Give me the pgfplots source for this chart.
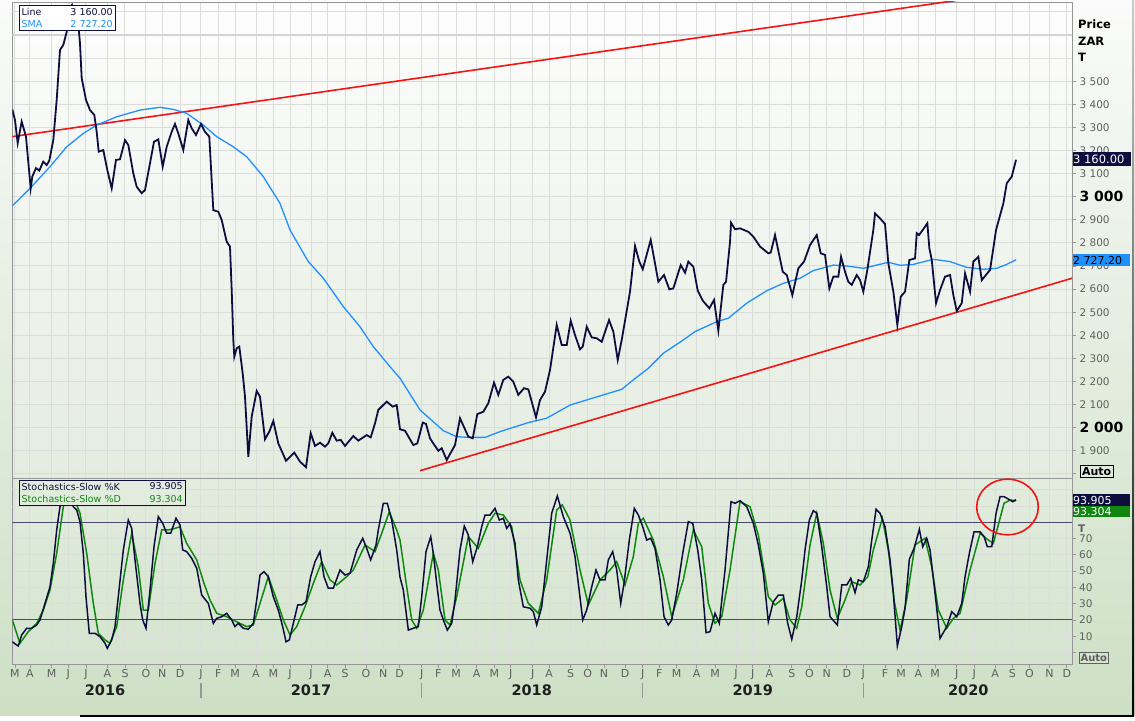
\documentclass[border=0pt]{standalone}
\usepackage{pgfplots}
\pgfplotsset{compat=1.18}
\usepackage{fontspec}
\setmainfont{DejaVu Sans}
\definecolor{navyline}{RGB}{14,14,62}
\definecolor{smablue}{RGB}{30,144,255}
\definecolor{trendred}{RGB}{245,20,20}
\definecolor{dgreen}{RGB}{16,136,16}
\definecolor{gridc}{RGB}{218,221,218}
\definecolor{bandc}{RGB}{72,72,112}
\definecolor{ticklab}{RGB}{95,95,95}
\definecolor{bgtop}{RGB}{250,251,250}
\definecolor{bgbot}{RGB}{204,223,196}
\definecolor{uptop}{RGB}{253,253,253}
\definecolor{upbot}{RGB}{228,236,224}
\definecolor{lotop}{RGB}{226,236,222}
\definecolor{lobot}{RGB}{212,228,206}
\definecolor{axgray}{RGB}{150,150,150}
\begin{document}
\begin{tikzpicture}[x=1pt,y=1pt]
\useasboundingbox (0,0) rectangle (1135,721);
\shade[top color=bgtop, bottom color=bgbot] (0,0) rectangle (1135,721);
% ---------------- upper panel ----------------
\begin{axis}[
  at={(12.3pt,243pt)}, anchor=south west, scale only axis,
  width=1059.7pt, height=476pt,
  xmin=1.854, xmax=59.29, ymin=1782.2, ymax=3842.9,
  axis background/.style={top color=uptop, bottom color=upbot},
  axis line style={axgray, line width=0.9pt},
  xtick={2.000,2.813,3.989,4.889,5.848,7.003,7.962,9.100,9.984,10.943,12.081,13.019,13.924,15.062,16.000,16.905,18.043,18.949,19.886,21.024,21.962,22.840,24.043,24.943,25.902,27.024,27.978,28.867,30.060,30.943,32.119,33.041,33.924,35.062,36.022,36.921,37.864,38.949,39.940,41.079,41.984,42.884,44.098,45.051,45.995,47.079,47.978,49.154,50.022,50.959,51.864,53.041,53.995,55.117,56.054,56.976,58.060,59.003},
  xticklabels={}, xtick style={draw=none},
  ytick={1800,1900,...,3500},
  yticklabels={{},1 900,{\fontsize{14}{16}\selectfont\bfseries\color{black}2 000},2 100,2 200,2 300,2 400,2 500,2 600,2 700,2 800,2 900,{\fontsize{14}{16}\selectfont\bfseries\color{black}3 000},3 100,3 200,3 300,3 400,3 500},
  ytick pos=right, yticklabel pos=right, tick align=outside, major tick length=4pt,
  ytick style={draw=axgray, line width=0.8pt},
  yticklabel style={font=\fontsize{10.5}{12}\selectfont, color=ticklab},
  xmajorgrids, ymajorgrids, major grid style={gridc, line width=1pt},
]
\addplot[gridc, line width=1pt] coordinates {(1.854,3600) (59.29,3600)};
\addplot[black!17, line width=1.5pt] coordinates {(1.854,3700) (59.29,3700)};
\addplot[gridc, line width=1pt] coordinates {(1.854,3800) (59.29,3800)};
\addplot[trendred, line width=1.6pt] coordinates {(1.854,3260) (59.29,3922)};
\addplot[trendred, line width=1.6pt] coordinates {(23.951,1814) (59.29,2647)};
\addplot[smablue, line width=1.3pt] coordinates {
(1.854,2960)(2.813,3036)(3.897,3130)(4.802,3216)(5.702,3274)(6.428,3310)(7.512,3346)(8.775,3375)(9.859,3387)(10.580,3378)(11.306,3361)(12.206,3310)(12.932,3260)(13.832,3216)(14.558,3173)(15.458,3087)(16.363,2971)(16.905,2856)(17.897,2719)(18.710,2647)(19.794,2524)(20.699,2437)(21.420,2351)(22.325,2264)(22.867,2214)(23.951,2077)(25.214,1987)(25.940,1961)(26.661,1958)(27.474,1958)(28.287,1983)(29.821,2022)(30.818,2041)(32.081,2098)(33.886,2142)(34.883,2166)(35.512,2207)(36.325,2257)(37.138,2322)(38.222,2380)(38.856,2416)(40.033,2459)(40.661,2474)(41.659,2539)(42.743,2593)(43.642,2625)(44.547,2647)(45.268,2680)(46.352,2704)(47.078,2700)(47.978,2690)(48.705,2704)(49.333,2716)(49.968,2703)(50.688,2707)(51.772,2729)(52.678,2719)(53.583,2694)(54.482,2686)(55.209,2690)(55.751,2707)(56.255,2727)};
\addplot[navyline, line width=1.8pt] coordinates {
(1.854,3378)(2.000,3332)(2.146,3232)(2.363,3325)(2.596,3260)(2.851,3036)(2.938,3087)(3.138,3124)(3.317,3113)(3.534,3152)(3.718,3137)(3.859,3156)(4.076,3245)(4.260,3419)(4.439,3635)(4.618,3657)(4.802,3714)(4.927,3808)(5.089,3830)(5.306,3765)(5.469,3714)(5.523,3664)(5.615,3513)(5.848,3419)(6.065,3375)(6.298,3354)(6.428,3281)(6.537,3195)(6.786,3202)(7.003,3116)(7.241,3036)(7.474,3159)(7.691,3162)(7.962,3245)(8.141,3224)(8.412,3101)(8.596,3043)(8.867,3015)(9.046,3029)(9.317,3145)(9.534,3238)(9.767,3248)(10.005,3130)(10.222,3216)(10.493,3281)(10.672,3315)(10.851,3274)(11.122,3202)(11.393,3332)(11.577,3296)(11.810,3267)(12.081,3315)(12.298,3281)(12.531,3260)(12.748,2942)(13.019,2935)(13.203,2899)(13.474,2805)(13.653,2784)(13.745,2596)(13.832,2380)(13.886,2307)(14.016,2344)(14.157,2351)(14.341,2235)(14.466,2134)(14.645,1874)(14.829,2048)(15.100,2159)(15.279,2134)(15.550,1950)(15.783,1983)(16.000,2029)(16.271,1932)(16.688,1857)(17.138,1892)(17.447,1853)(17.772,1829)(18.027,1976)(18.260,1921)(18.531,1935)(18.802,1918)(18.981,1932)(19.198,1978)(19.436,1944)(19.653,1947)(19.886,1921)(20.336,1964)(20.607,1944)(21.062,1968)(21.279,1958)(21.512,2019)(21.691,2077)(22.146,2113)(22.472,2091)(22.688,2098)(22.867,1993)(23.138,1987)(23.588,1925)(23.805,1932)(24.098,2022)(24.276,2016)(24.493,1954)(24.672,1932)(24.943,1900)(25.127,1911)(25.398,1860)(25.848,1925)(26.119,2041)(26.569,1961)(26.808,1954)(27.057,2059)(27.382,2069)(27.653,2106)(27.962,2195)(28.195,2142)(28.466,2207)(28.737,2221)(29.008,2199)(29.279,2142)(29.588,2171)(29.821,2166)(30.238,2045)(30.455,2120)(30.726,2156)(30.997,2250)(31.360,2445)(31.631,2358)(31.902,2358)(32.119,2463)(32.352,2401)(32.623,2339)(32.770,2351)(32.986,2437)(33.257,2391)(33.528,2387)(33.799,2372)(34.195,2466)(34.428,2416)(34.667,2293)(34.883,2380)(35.333,2589)(35.604,2787)(35.837,2719)(36.022,2686)(36.455,2813)(36.867,2632)(37.176,2661)(37.463,2599)(37.680,2603)(38.081,2704)(38.314,2671)(38.493,2719)(38.764,2697)(39.003,2593)(39.274,2550)(39.631,2517)(39.886,2553)(40.119,2420)(40.390,2618)(40.537,2632)(40.753,2805)(40.808,2887)(41.024,2859)(41.295,2863)(41.745,2848)(42.016,2827)(42.379,2784)(42.829,2755)(42.959,2758)(43.192,2834)(43.610,2675)(43.827,2661)(44.130,2574)(44.455,2690)(44.764,2719)(45.089,2791)(45.453,2834)(45.669,2755)(45.902,2748)(46.136,2603)(46.352,2654)(46.623,2654)(46.770,2740)(46.986,2675)(47.165,2632)(47.350,2618)(47.621,2661)(47.799,2639)(47.978,2589)(48.195,2683)(48.520,2856)(48.612,2928)(48.883,2906)(49.154,2882)(49.333,2712)(49.604,2589)(49.821,2445)(50.005,2567)(50.238,2589)(50.472,2726)(50.780,2733)(50.873,2842)(50.997,2834)(51.198,2856)(51.447,2885)(51.556,2777)(51.686,2726)(51.919,2539)(52.136,2596)(52.407,2654)(52.678,2661)(52.857,2574)(53.041,2505)(53.312,2539)(53.491,2668)(53.762,2589)(53.940,2719)(54.211,2740)(54.396,2639)(54.846,2683)(55.171,2856)(55.566,2971)(55.751,3058)(56.022,3087)(56.255,3160)};
\end{axis}
% ---------------- lower panel ----------------
\begin{axis}[
  at={(12.3pt,57pt)}, anchor=south west, scale only axis,
  width=1059.7pt, height=186pt,
  xmin=1.854, xmax=59.29, ymin=-7.07, ymax=107.25,
  axis background/.style={top color=lotop, bottom color=lobot},
  axis line style={axgray, line width=0.9pt},
  xtick={2.000,2.813,3.989,4.889,5.848,7.003,7.962,9.100,9.984,10.943,12.081,13.019,13.924,15.062,16.000,16.905,18.043,18.949,19.886,21.024,21.962,22.840,24.043,24.943,25.902,27.024,27.978,28.867,30.060,30.943,32.119,33.041,33.924,35.062,36.022,36.921,37.864,38.949,39.940,41.079,41.984,42.884,44.098,45.051,45.995,47.079,47.978,49.154,50.022,50.959,51.864,53.041,53.995,55.117,56.054,56.976,58.060,59.003},
  xticklabels={M,A,M,J,J,A,S,O,N,D,J,F,M,A,M,J,J,A,S,O,N,D,J,F,M,A,M,J,J,A,S,O,N,D,J,F,M,A,M,J,J,A,S,O,N,D,J,F,M,A,M,J,J,A,S,O,N,D},
  xtick pos=left,
  xtick style={draw=axgray, line width=0.8pt},
  xticklabel style={font=\fontsize{11}{13}\selectfont, color=ticklab, yshift=1.5pt},
  ytick={0,10,...,70},
  yticklabels={{},10,20,30,40,50,60,70},
  ytick pos=right, yticklabel pos=right, tick align=outside, major tick length=3.5pt,
  ytick style={draw=axgray, line width=0.8pt},
  yticklabel style={font=\fontsize{10.5}{12}\selectfont, color=ticklab},
  xmajorgrids, ymajorgrids, major grid style={gridc, line width=1pt},
]
\addplot[gridc, line width=1pt] coordinates {(1.854,90) (59.29,90)};
\addplot[gridc, line width=1pt] coordinates {(1.854,100) (59.29,100)};
\addplot[bandc, line width=1pt] coordinates {(1.854,20) (59.29,20)};
\addplot[bandc, line width=1pt] coordinates {(1.854,80) (59.29,80)};
\addplot[dgreen, line width=1.5pt] coordinates {
(1.854,20.0)(2.271,5.7)(2.721,12.8)(3.176,17.9)(3.534,26.1)(3.897,38.4)(4.260,61.0)(4.618,89.6)(4.802,95.8)(5.160,95.8)(5.523,85.6)(5.886,61.0)(6.244,30.2)(6.515,11.8)(6.878,7.7)(7.149,5.7)(7.512,15.9)(7.870,44.6)(8.325,73.3)(8.683,52.7)(8.954,26.1)(9.225,26.1)(9.588,54.8)(9.951,75.3)(10.309,75.3)(10.672,76.3)(10.943,77.3)(11.306,67.1)(11.848,56.9)(12.244,42.5)(12.569,32.3)(12.932,24.1)(13.474,22.0)(14.016,18.9)(14.558,15.9)(14.916,16.9)(15.279,30.2)(15.729,46.6)(16.184,32.3)(16.542,20.0)(16.905,10.8)(17.268,15.9)(17.718,28.1)(18.168,42.5)(18.623,55.8)(19.073,44.6)(19.436,41.5)(19.978,46.6)(20.336,50.7)(20.970,66.1)(21.512,62.0)(21.875,73.3)(22.287,86.5)(22.688,75.3)(22.867,69.1)(23.230,40.4)(23.501,20.0)(23.772,14.9)(24.130,26.1)(24.672,61.0)(24.943,50.7)(25.306,20.0)(25.577,16.9)(25.940,34.3)(26.569,71.2)(27.111,64.0)(27.653,79.4)(28.016,85.6)(28.466,84.5)(28.921,77.3)(29.371,44.6)(29.821,30.2)(30.363,24.1)(30.818,44.6)(31.360,87.6)(31.664,90.7)(32.081,81.4)(32.623,50.7)(33.073,29.2)(33.707,44.6)(34.249,50.7)(34.612,55.8)(35.062,41.5)(35.512,58.9)(35.783,79.4)(36.054,82.5)(36.596,69.1)(37.138,46.6)(37.593,22.0)(38.222,44.6)(38.764,75.3)(39.220,65.0)(39.577,30.2)(39.940,17.9)(40.304,22.0)(40.753,50.7)(41.295,92.7)(41.837,89.6)(42.287,72.2)(42.829,34.3)(43.192,29.2)(43.642,33.3)(44.005,20.0)(44.369,14.9)(44.640,28.1)(45.089,66.1)(45.453,85.6)(45.810,67.1)(46.173,38.4)(46.569,21.0)(46.986,32.3)(47.350,43.5)(47.799,41.5)(48.222,46.6)(48.520,63.0)(49.008,82.5)(49.333,63.0)(49.659,31.2)(49.968,13.8)(50.325,32.3)(50.780,66.1)(51.322,70.2)(51.684,52.7)(52.046,26.1)(52.496,14.9)(52.859,21.0)(53.222,24.1)(53.762,50.7)(54.304,73.3)(54.753,69.1)(55.024,67.1)(55.388,82.5)(55.604,91.7)(55.930,93.7)(56.255,93.304)};
\addplot[navyline, line width=1.5pt] coordinates {
(1.854,6.6)(2.092,4.6)(2.179,4.0)(2.363,10.8)(2.634,14.9)(2.905,14.9)(3.176,16.9)(3.355,20.0)(3.626,30.2)(3.897,40.4)(4.076,54.8)(4.260,75.3)(4.439,89.6)(4.602,98.0)(4.873,98.0)(5.160,89.6)(5.344,87.6)(5.523,80.4)(5.702,61.0)(5.848,34.3)(6.027,11.8)(6.336,11.8)(6.607,9.7)(6.878,5.7)(7.003,2.6)(7.241,7.7)(7.420,15.9)(7.599,34.3)(7.870,63.0)(8.141,81.4)(8.325,76.3)(8.504,56.9)(8.775,30.2)(8.921,20.0)(9.100,14.9)(9.317,38.4)(9.534,65.0)(9.767,83.5)(10.005,79.4)(10.222,73.3)(10.439,73.3)(10.726,82.5)(10.943,78.4)(11.089,63.0)(11.306,62.0)(11.577,57.9)(11.848,51.8)(12.119,35.3)(12.477,30.2)(12.748,17.9)(12.932,21.0)(13.203,22.0)(13.474,24.1)(13.745,20.0)(13.924,15.9)(14.103,17.9)(14.374,14.9)(14.645,14.3)(14.916,17.9)(15.100,32.3)(15.279,47.6)(15.496,49.7)(15.729,46.6)(16.000,34.3)(16.271,26.1)(16.509,15.9)(16.688,6.6)(16.867,7.7)(17.084,17.9)(17.322,29.2)(17.539,29.2)(17.772,31.2)(18.027,46.6)(18.260,55.8)(18.531,62.0)(18.748,46.6)(18.981,39.5)(19.252,39.5)(19.615,50.7)(19.886,47.6)(20.157,48.7)(20.520,63.0)(20.846,70.2)(21.062,64.0)(21.279,56.9)(21.566,66.1)(21.691,75.3)(21.962,91.7)(22.179,91.7)(22.417,81.4)(22.688,63.0)(22.867,46.3)(23.046,38.4)(23.317,13.8)(23.588,14.9)(23.859,15.9)(24.043,34.3)(24.276,62.0)(24.531,71.2)(24.672,61.0)(24.856,42.5)(25.035,26.1)(25.214,20.0)(25.431,13.8)(25.669,17.9)(25.848,32.3)(26.119,63.0)(26.352,77.7)(26.569,72.2)(26.808,55.8)(27.057,65.0)(27.295,77.3)(27.474,84.5)(27.745,84.5)(28.016,88.6)(28.249,81.4)(28.466,82.5)(28.650,76.3)(28.829,79.0)(29.100,67.1)(29.279,44.6)(29.550,28.1)(29.913,27.2)(30.092,25.1)(30.276,16.9)(30.547,28.1)(30.818,56.9)(31.089,85.6)(31.393,96.2)(31.718,83.5)(32.081,73.3)(32.352,58.9)(32.531,42.5)(32.770,20.0)(32.986,26.1)(33.257,40.4)(33.490,50.7)(33.707,44.6)(33.978,44.6)(34.157,56.9)(34.396,62.0)(34.612,50.7)(34.829,30.2)(35.008,42.5)(35.295,69.1)(35.566,88.6)(35.783,84.5)(36.022,77.3)(36.238,69.1)(36.455,70.2)(36.688,64.0)(36.959,44.6)(37.176,22.0)(37.409,16.9)(37.593,20.0)(37.864,36.4)(38.190,61.0)(38.493,80.4)(38.732,79.4)(39.003,63.0)(39.220,44.6)(39.453,12.2)(39.669,12.8)(39.940,24.1)(40.173,17.9)(40.482,50.7)(40.808,92.7)(41.024,91.7)(41.295,93.3)(41.659,89.6)(42.016,79.4)(42.287,66.1)(42.558,48.7)(42.829,18.9)(43.100,31.2)(43.371,35.3)(43.642,35.3)(43.870,18.4)(44.098,8.1)(44.369,22.0)(44.640,44.6)(44.818,63.0)(45.051,81.4)(45.268,87.2)(45.453,85.6)(45.724,65.0)(45.995,40.4)(46.173,22.0)(46.569,16.9)(46.808,41.5)(47.079,41.5)(47.295,45.6)(47.528,36.8)(47.707,44.6)(47.978,43.5)(48.249,52.7)(48.434,69.1)(48.667,88.0)(48.883,85.6)(49.154,77.3)(49.425,56.9)(49.604,36.4)(49.821,4.0)(50.060,15.9)(50.238,27.2)(50.472,57.3)(50.726,64.0)(51.014,75.7)(51.198,65.0)(51.415,70.2)(51.593,63.0)(51.864,36.4)(52.136,8.7)(52.499,15.9)(52.770,25.1)(53.041,22.0)(53.312,30.2)(53.491,46.6)(53.724,61.0)(53.978,74.2)(54.304,74.2)(54.520,71.2)(54.699,65.0)(54.938,65.0)(55.171,85.6)(55.388,95.8)(55.604,95.8)(55.930,93.7)(56.076,92.7)(56.255,93.905)};
\end{axis}
% panel separator
\draw[black!42, line width=1.4pt] (12.3,242.7) -- (1072,242.7);
% legends
\draw[navyline, fill=white, line width=0.8pt] (19,715.3) rectangle (115.7,690.3);
\node[anchor=west, text=navyline, inner sep=0pt, font=\fontsize{9.5}{11}\selectfont] at (21.5,708.7) {Line};
\node[anchor=east, text=navyline, inner sep=0pt, font=\fontsize{9.5}{11}\selectfont] at (113,708.7) {3 160.00};
\node[anchor=west, text=smablue, inner sep=0pt, font=\fontsize{9.5}{11}\selectfont] at (21.5,697) {SMA};
\node[anchor=east, text=smablue, inner sep=0pt, font=\fontsize{9.5}{11}\selectfont] at (113,697) {2 727.20};
\draw[navyline, fill=lotop, line width=0.8pt] (19,240.5) rectangle (185.7,215.5);
\node[anchor=west, text=navyline, inner sep=0pt, font=\fontsize{9.5}{11}\selectfont] at (21.5,234.5) {Stochastics-Slow \%K};
\node[anchor=east, text=navyline, inner sep=0pt, font=\fontsize{9.5}{11}\selectfont] at (183,234.5) {93.905};
\node[anchor=west, text=dgreen, inner sep=0pt, font=\fontsize{9.5}{11}\selectfont] at (21.5,222) {Stochastics-Slow \%D};
\node[anchor=east, text=dgreen, inner sep=0pt, font=\fontsize{9.5}{11}\selectfont] at (183,222) {93.304};
% right-side labels
\node[anchor=west, inner sep=0pt, font=\fontsize{11.5}{13}\selectfont\bfseries] at (1078,696.7) {Price};
\node[anchor=west, inner sep=0pt, font=\fontsize{11.5}{13}\selectfont\bfseries] at (1078,680) {ZAR};
\node[anchor=west, inner sep=0pt, font=\fontsize{11.5}{13}\selectfont\bfseries] at (1078,663.3) {T};
\node[anchor=west, inner sep=0pt, text=ticklab, font=\fontsize{10.5}{12}\selectfont\bfseries] at (1078,192) {T};
\fill[navyline] (1072.5,554.5) rectangle (1130.5,568.5);
\node[anchor=west, text=white, inner sep=0pt, font=\fontsize{11.5}{13}\selectfont] at (1073,561.5) {3 160.00};
\fill[smablue] (1072.5,454.5) rectangle (1129.5,466.5);
\node[anchor=west, text=black, inner sep=0pt, font=\fontsize{11}{13}\selectfont] at (1073,460.5) {2 727.20};
\fill[navyline] (1072.5,215) rectangle (1129.5,227);
\node[anchor=west, text=white, inner sep=0pt, font=\fontsize{11}{13}\selectfont] at (1073,221) {93.905};
\fill[dgreen] (1072.5,203.7) rectangle (1129.5,215);
\node[anchor=west, text=white, inner sep=0pt, font=\fontsize{11}{13}\selectfont] at (1073,209.4) {93.304};
\draw[black, fill=lotop, line width=0.9pt] (1080,256) rectangle (1113.3,243.7);
\node[inner sep=0pt, font=\fontsize{11}{13}\selectfont\bfseries] at (1096.6,249.8) {Auto};
\draw[ticklab, fill=lobot, line width=0.8pt] (1079.3,68.3) rectangle (1108.3,57.7);
\node[inner sep=0pt, text=ticklab, font=\fontsize{10}{12}\selectfont\bfseries] at (1093.8,63) {Auto};
% red ellipse highlight
\draw[trendred, line width=1.6pt] (1007.5,214) ellipse [x radius=30.8, y radius=27.8];
% year labels
\foreach \xx/\yy in {105/2016,311/2017,531.7/2018,752.7/2019,968.3/2020}
  \node[inner sep=0pt, text=black!88, font=\fontsize{14.5}{16}\selectfont\bfseries] at (\xx,31) {\yy};
\foreach \xx in {201,421.7,642.7,863.3}
  \draw[axgray, line width=1.3pt] (\xx,23.3) -- (\xx,37.7);
% frame
\fill[white] (0,0) rectangle (1135,5);
\shade[top color=black!20, bottom color=black] (1132.2,5) rectangle (1134,721);
\draw[black, line width=1.3pt] (80,5) -- (1133,5);
\end{tikzpicture}
\end{document}
